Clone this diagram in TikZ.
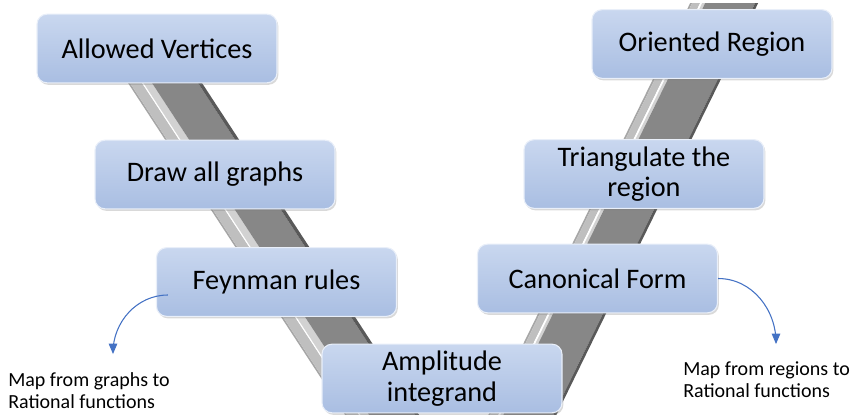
\documentclass[tikz,border=0pt]{standalone}
\usepackage{fontspec}
\setmainfont{Carlito}
\usepackage{tikz}
\usetikzlibrary{arrows,shadows}

\definecolor{boxtop}{HTML}{C9D7EF}
\definecolor{boxbot}{HTML}{A9BEE2}
\definecolor{bandedge}{HTML}{A6A6A6}
\definecolor{bandlight}{HTML}{BFBFBF}
\definecolor{bandpale}{HTML}{D2D2D2}
\definecolor{banddark}{HTML}{878787}
\definecolor{bandshade}{HTML}{595959}
\definecolor{mapblue}{HTML}{4472C4}

% one arm of the V: left edge from (#1,#2) to (#3,#4), strips in #5
\newcommand{\varm}[5]{%
  \foreach \a/\b/\c in {#5}
    \fill[\c] (#1+\a,#2) -- (#1+\b,#2) -- (#3+\b,#4) -- (#3+\a,#4) -- cycle;}

\tikzset{
  vbox/.style={rectangle, rounded corners=7.5pt, draw=white!60!boxtop, line width=0.8pt,
    top color=boxtop, bottom color=boxbot, minimum width=180pt, minimum height=51.5pt,
    inner sep=2pt, align=center, font=\fontsize{21.2}{22.8}\selectfont,
    drop shadow={opacity=0.3, shadow xshift=1pt, shadow yshift=-1.5pt}},
  note/.style={inner sep=0pt, align=left, font=\fontsize{15}{16.5}\selectfont},
  maparrow/.style={->, >=triangle 45, draw=mapblue, line width=0.8pt}
}

\begin{document}
\begin{tikzpicture}[x=0.75pt,y=-0.75pt]
\useasboundingbox (0,0) rectangle (852,414);

% the V band
\begin{scope}
  \clip (0,0) rectangle (852,414);
  \varm{86.8}{20}{348.4}{420}{0/2/bandedge,2/14/bandlight,14/15.5/white,15.5/24/bandpale,24/70/banddark,70/74/bandshade}
  \varm{690.2}{3}{485.9}{420}{0/2/bandedge,2/10/bandlight,10/12/white,12/15/bandpale,15/65/banddark,65/68/bandshade}
\end{scope}

% left side
\node[vbox] (vert) at (157,48.5) {Allowed Vertices};
\node[vbox] (graphs) at (215,174.5) {Draw all graphs};
\node[vbox] (feyn) at (276.5,282) {Feynman rules};
% bottom
\node[vbox] (ampl) at (442,378.5) {Amplitude\\integrand};
% right side
\node[vbox] (canon) at (597.5,278.5) {Canonical Form};
\node[vbox] (tri) at (644,174) {Triangulate the\\region};
\node[vbox] (orient) at (712,44) {Oriented Region};

% maps
\coordinate (m1) at (113,354);
\coordinate (m2) at (776,344);
\draw[maparrow] ([xshift=9pt,yshift=-9.75pt]feyn.west) to[out=180,in=90] (m1);
\draw[maparrow] (canon.east) to[out=0,in=90] (m2);

\node[note, anchor=base west] (graphnote) at (8,408) {Map from graphs to\\Rational functions};
\node[note, anchor=base west] (regnote) at (683,397) {Map from regions to\\Rational functions};
\end{tikzpicture}
\end{document}
